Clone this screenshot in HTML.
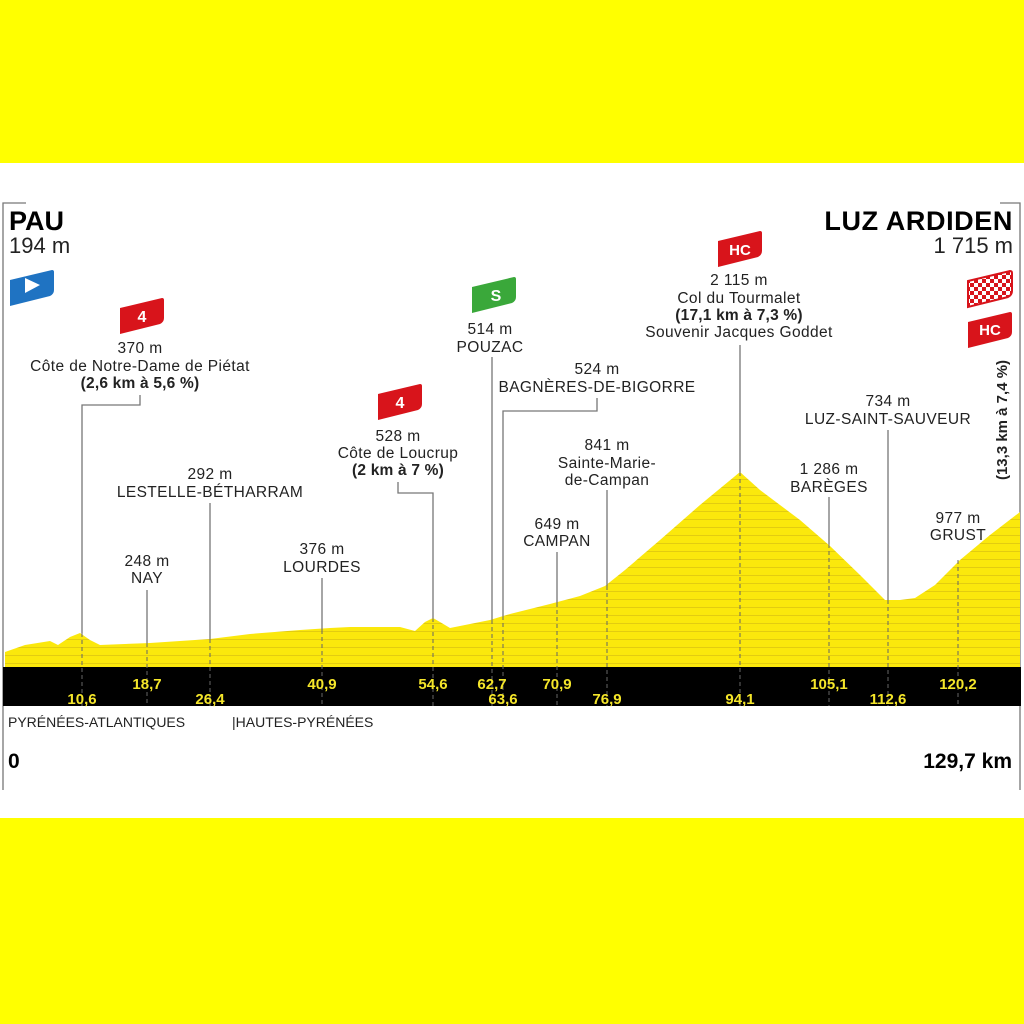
<!DOCTYPE html>
<html><head><meta charset="utf-8"><style>
body{margin:0;width:1024px;height:1024px;overflow:hidden;background:#fff}
svg{display:block}
text{font-family:"Liberation Sans",sans-serif;fill:#222}
.t{font-size:15.5px;text-anchor:middle;letter-spacing:0.4px}
.b{font-weight:bold;letter-spacing:0.2px}
.k{font-size:15px;font-weight:bold;fill:#f5e62a;text-anchor:middle;font-family:"Liberation Sans Narrow","Liberation Sans",sans-serif}
.l{stroke:#777;stroke-width:1.3;fill:none}
.d{stroke:#666;stroke-width:1;stroke-dasharray:4 3}
</style></head><body>
<svg width="1024" height="1024" viewBox="0 0 1024 1024">
<defs>
<path id="flag" d="M-22,-6 L20,-16 Q22,-16 22,-14 L22,4 Q22,8 18,10 L-22,20 Z"/>
<pattern id="stripe" width="10" height="8" patternUnits="userSpaceOnUse"><rect width="10" height="8" fill="#fbe80c"/><rect y="7" width="10" height="1" fill="#e3cc10"/></pattern>
<pattern id="chk" width="8" height="8" patternUnits="userSpaceOnUse"><rect width="8" height="8" fill="#fff"/><rect width="4" height="4" fill="#d8141b"/><rect x="4" y="4" width="4" height="4" fill="#d8141b"/></pattern>
</defs>
<rect width="1024" height="163" fill="#ffff00"/>
<rect y="818" width="1024" height="206" fill="#ffff00"/>
<path class="l" d="M3,790 V203 H26"/>
<path class="l" d="M1020,790 V203 H1000"/>
<path fill="url(#stripe)" d="M5,667 L5,652 L25,645 L50,641 L58,645 L70,637 L80,633 L90,640 L100,645 L150,643 L210,639 L250,634 L300,630 L330,628 L350,627 L400,627 L415,631 L425,622 L433,618 L440,622 L450,628 L490,620 L510,614 L550,604 L580,596 L605,586 L625,570 L660,540 L700,505 L740,472 L760,490 L800,520 L830,546 L860,575 L885,600 L900,600 L915,598 L935,585 L960,560 L990,535 L1020,512 L1020,667 Z"/>
<rect x="3" y="667" width="1018" height="39" fill="#000"/>
<path class="l" d="M140,395 V405 H82 V633"/>
<path class="l" d="M210,503 V639"/>
<path class="l" d="M147,590 V643"/>
<path class="l" d="M322,578 V630"/>
<path class="l" d="M398,482 V493 H433 V618"/>
<path class="l" d="M492,357 V620"/>
<path class="l" d="M597,398 V411 H503 V616"/>
<path class="l" d="M607,490 V586"/>
<path class="l" d="M557,552 V603"/>
<path class="l" d="M740,345 V472"/>
<path class="l" d="M888,430 V600"/>
<path class="l" d="M829,497 V544"/>
<g class="d">
<path d="M82,633V706M147,643V706M210,639V706M322,630V706M433,618V706M492,620V706M503,616V706M557,603V706M607,586V706M740,472V706M829,544V706M888,600V706M958,560V706"/>
</g>
<text class="k" x="147" y="689">18,7</text>
<text class="k" x="322" y="689">40,9</text>
<text class="k" x="433" y="689">54,6</text>
<text class="k" x="492" y="689">62,7</text>
<text class="k" x="557" y="689">70,9</text>
<text class="k" x="829" y="689">105,1</text>
<text class="k" x="958" y="689">120,2</text>
<text class="k" x="82" y="704">10,6</text>
<text class="k" x="210" y="704">26,4</text>
<text class="k" x="503" y="704">63,6</text>
<text class="k" x="607" y="704">76,9</text>
<text class="k" x="740" y="704">94,1</text>
<text class="k" x="888" y="704">112,6</text>
<text x="9" y="230" style="font-size:27px;font-weight:bold;fill:#000">PAU</text>
<text x="9" y="253" style="font-size:22px">194 m</text>
<text x="1013" y="230" text-anchor="end" style="font-size:27px;font-weight:bold;fill:#000;letter-spacing:0.6px">LUZ ARDIDEN</text>
<text x="1013" y="253" text-anchor="end" style="font-size:22px">1 715 m</text>
<use href="#flag" x="32" y="286" fill="#1f73c2"/>
<path d="M25,278 L40,285 L25,293 Z" fill="#fff"/>
<use href="#flag" x="990" y="287" fill="url(#chk)" stroke="#d8141b" stroke-width="2"/>
<use href="#flag" x="990" y="328" fill="#d8141b"/>
<text x="990" y="335" text-anchor="middle" style="font-size:15px;font-weight:bold;fill:#fff">HC</text>
<text transform="translate(1007,420) rotate(-90)" text-anchor="middle" style="font-size:15px;font-weight:bold">(13,3 km à 7,4 %)</text>
<use href="#flag" x="142" y="314" fill="#d8141b"/><text x="142" y="322" text-anchor="middle" style="font-size:16px;font-weight:bold;fill:#fff">4</text>
<use href="#flag" x="400" y="400" fill="#d8141b"/><text x="400" y="408" text-anchor="middle" style="font-size:16px;font-weight:bold;fill:#fff">4</text>
<use href="#flag" x="494" y="293" fill="#3aa83a"/><text x="496" y="301" text-anchor="middle" style="font-size:16px;font-weight:bold;fill:#fff">S</text>
<use href="#flag" x="740" y="247" fill="#d8141b"/><text x="740" y="255" text-anchor="middle" style="font-size:15px;font-weight:bold;fill:#fff">HC</text>
<text class="t" x="140" y="353">370 m</text>
<text class="t" x="140" y="371">Côte de Notre-Dame de Piétat</text>
<text class="t b" x="140" y="388">(2,6 km à 5,6 %)</text>
<text class="t" x="210" y="479">292 m</text>
<text class="t" x="210" y="497">LESTELLE-BÉTHARRAM</text>
<text class="t" x="147" y="566">248 m</text>
<text class="t" x="147" y="583">NAY</text>
<text class="t" x="322" y="554">376 m</text>
<text class="t" x="322" y="572">LOURDES</text>
<text class="t" x="398" y="441">528 m</text>
<text class="t" x="398" y="458">Côte de Loucrup</text>
<text class="t b" x="398" y="475">(2 km à 7 %)</text>
<text class="t" x="490" y="334">514 m</text>
<text class="t" x="490" y="352">POUZAC</text>
<text class="t" x="597" y="374">524 m</text>
<text class="t" x="597" y="392">BAGNÈRES-DE-BIGORRE</text>
<text class="t" x="607" y="450">841 m</text>
<text class="t" x="607" y="468">Sainte-Marie-</text>
<text class="t" x="607" y="485">de-Campan</text>
<text class="t" x="557" y="529">649 m</text>
<text class="t" x="557" y="546">CAMPAN</text>
<text class="t" x="739" y="285">2 115 m</text>
<text class="t" x="739" y="303">Col du Tourmalet</text>
<text class="t b" x="739" y="320">(17,1 km à 7,3 %)</text>
<text class="t" x="739" y="337">Souvenir Jacques Goddet</text>
<text class="t" x="888" y="406">734 m</text>
<text class="t" x="888" y="424">LUZ-SAINT-SAUVEUR</text>
<text class="t" x="829" y="474">1 286 m</text>
<text class="t" x="829" y="492">BARÈGES</text>
<text class="t" x="958" y="523">977 m</text>
<text class="t" x="958" y="540">GRUST</text>
<text x="8" y="727" style="font-size:14px">PYRÉNÉES-ATLANTIQUES</text>
<text x="232" y="727" style="font-size:14px">|HAUTES-PYRÉNÉES</text>
<text x="8" y="768" style="font-size:21px;font-weight:bold;fill:#000">0</text>
<text x="1012" y="768" text-anchor="end" style="font-size:21px;font-weight:bold;fill:#000">129,7 km</text>
</svg>
</body></html>
